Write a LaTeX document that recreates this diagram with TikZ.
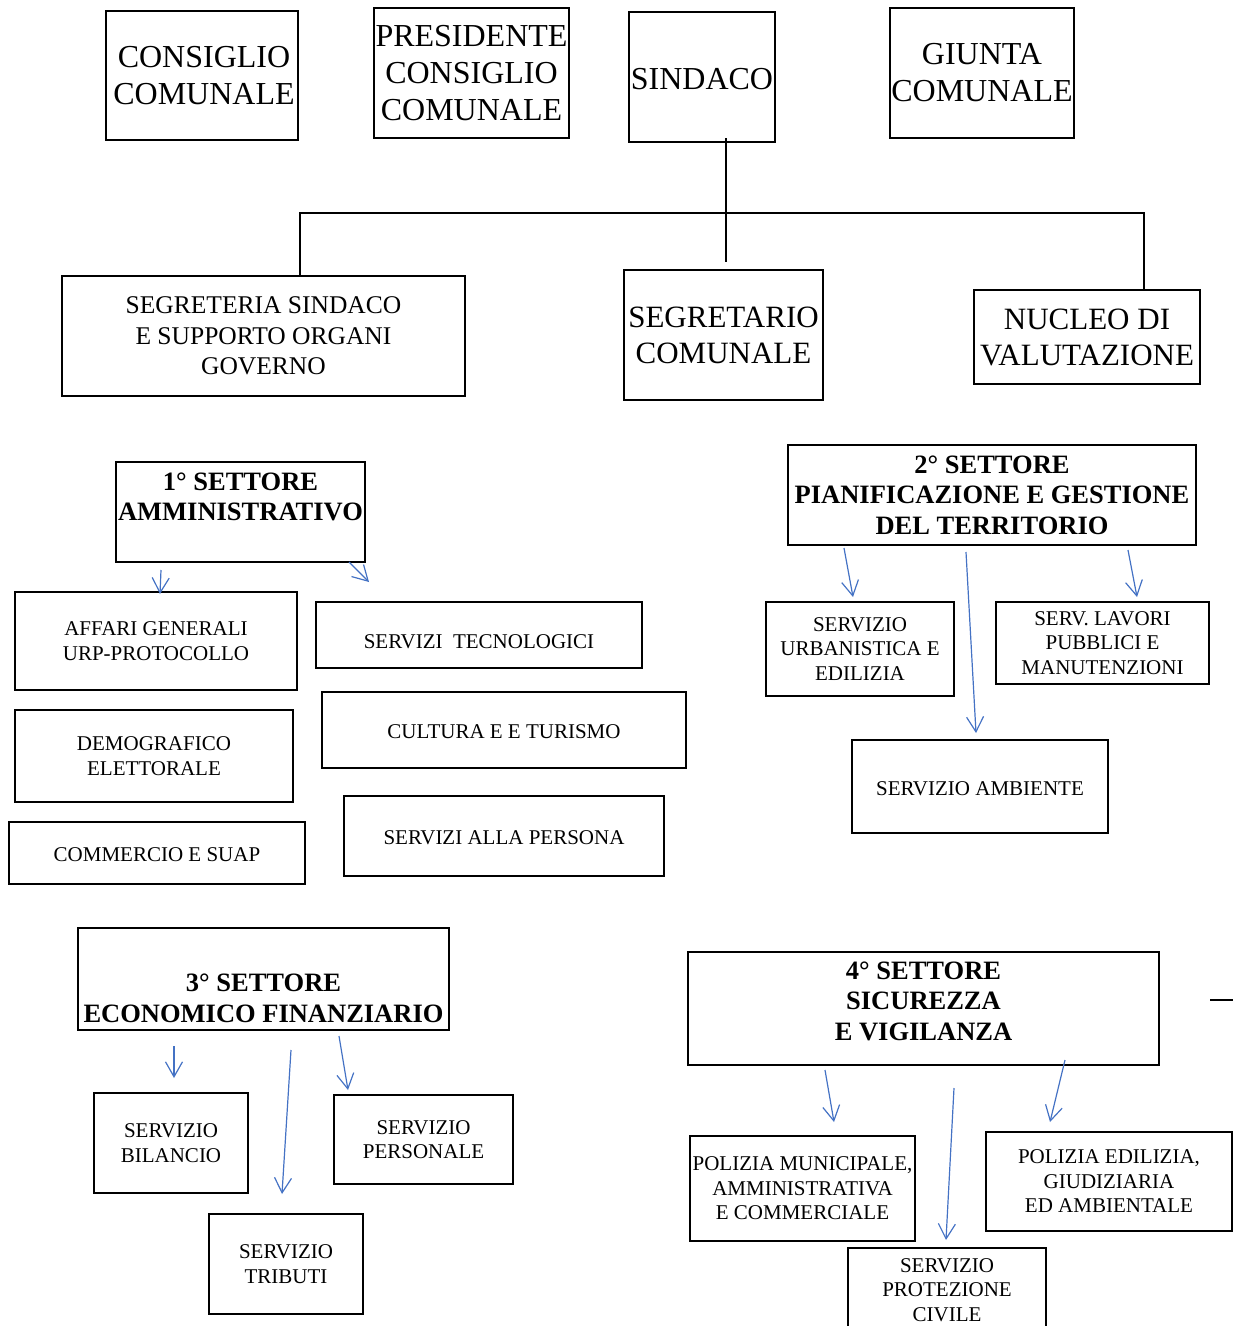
\documentclass[tikz,border=0pt]{standalone}
\usepackage{fontspec}
\setmainfont{Liberation Serif}
\usetikzlibrary{arrows.meta}
\definecolor{arrblue}{HTML}{4472C4}
\newcommand{\orgbox}[7]{%
  \node[orgb,font=#6,minimum width={#4-#2},minimum height={#5-#3}] (#1) at ({(#2+#4)/2},{(#3+#5)/2}) {#7};}
\newcommand{\lowr}[2]{\raisebox{-#1}[\height][\depth]{#2}}
\tikzset{
  orgb/.style={draw=black,line width=2pt,inner sep=0pt,align=center},
  arr/.style={draw=arrblue,line width=1.2pt,-{Straight Barb[length=15pt,width=17pt,line width=1.2pt]}},
  tie/.style={draw=black,line width=2pt}
}
\newcommand{\fbig}{\fontsize{32}{37}\selectfont}
\newcommand{\fmid}{\fontsize{25.5}{30.5}\selectfont}
\newcommand{\fmidb}{\fontsize{31}{36}\selectfont}
\newcommand{\fset}{\fontsize{26.5}{30.5}\selectfont\bfseries}
\newcommand{\fsm}{\fontsize{21}{24.5}\selectfont}
\begin{document}
\begin{tikzpicture}[x=1pt,y=-1pt]
\useasboundingbox (0,0) rectangle (1233,1326);
% top row
\orgbox{consiglio}{106}{11}{298}{140}{\fbig}{\hspace*{4pt}CONSIGLIO\\\hspace*{4pt}COMUNALE}
\orgbox{presidente}{374}{8}{569}{138}{\fbig}{PRESIDENTE\\CONSIGLIO\\COMUNALE}
\orgbox{sindaco}{629}{12}{775}{142}{\fbig}{\lowr{2pt}{SINDACO}}
\orgbox{giunta}{890}{8}{1074}{138}{\fbig}{GIUNTA\\COMUNALE}
% second row
\orgbox{segreteria}{62}{276}{465}{396}{\fmid}{SEGRETERIA SINDACO\\E SUPPORTO ORGANI\\GOVERNO}
\orgbox{segretario}{624}{270}{823}{400}{\fmidb}{SEGRETARIO\\COMUNALE}
\orgbox{nucleo}{974}{290}{1200}{384}{\fmidb}{NUCLEO DI\\VALUTAZIONE}
% connectors
\coordinate (jl) at (300,213);
\coordinate (jr) at (1144,213);
\draw[tie] ([xshift=2.5pt]segretario.north |- sindaco.south) ++(0,-5) -- ([xshift=2.5pt,yshift=7pt]segretario.north);
\draw[tie] (segreteria.north -| jl) -- (jl) -- (jr) -- (nucleo.north -| jr);
% 1 settore
\orgbox{set1}{116}{462}{365}{562}{\fset}{1° SETTORE\\AMMINISTRATIVO\\\mbox{}}
\orgbox{affari}{15}{592}{297}{690}{\fsm}{AFFARI GENERALI\\URP-PROTOCOLLO}
\orgbox{tecno}{316}{602}{642}{668}{\fsm}{\lowr{7pt}{SERVIZI\ \ TECNOLOGICI}}
\orgbox{demo}{15}{710}{293}{802}{\fsm}{DEMOGRAFICO\\ELETTORALE}
\orgbox{cultura}{322}{692}{686}{768}{\fsm}{\lowr{2pt}{CULTURA E E TURISMO}}
\orgbox{commercio}{9}{822}{305}{884}{\fsm}{\lowr{2pt}{COMMERCIO E SUAP}}
\orgbox{persona}{344}{796}{664}{876}{\fsm}{\lowr{2pt}{SERVIZI ALLA PERSONA}}
\coordinate (a1s) at (161,570); \coordinate (a1e) at (160,594);
\coordinate (a2s) at (349,562); \coordinate (a2e) at (369,582);
\draw[arr] (a1s) -- (a1e);
\draw[arr] (a2s) -- (a2e);
% 2 settore
\orgbox{set2}{788}{445}{1196}{545}{\fset}{2° SETTORE\\PIANIFICAZIONE E GESTIONE\\DEL TERRITORIO}
\orgbox{urban}{766}{602}{954}{696}{\fsm}{SERVIZIO\\URBANISTICA E\\EDILIZIA}
\orgbox{lavori}{996}{602}{1209}{684}{\fsm}{SERV. LAVORI\\PUBBLICI E\\MANUTENZIONI}
\orgbox{ambiente}{852}{740}{1108}{833}{\fsm}{\lowr{2pt}{SERVIZIO AMBIENTE}}
\coordinate (b1s) at (844,548); \coordinate (b1e) at (853,597);
\coordinate (b2s) at (966,552); \coordinate (b2e) at (976,733);
\coordinate (b3s) at (1128,550); \coordinate (b3e) at (1137,597);
\draw[arr] (b1s) -- (b1e);
\draw[arr] (b2s) -- (b2e);
\draw[arr] (b3s) -- (b3e);
% 3 settore
\orgbox{set3}{78}{928}{449}{1030}{\fset}{\mbox{}\\[26pt]3° SETTORE\\ECONOMICO FINANZIARIO}
\orgbox{bilancio}{94}{1093}{248}{1193}{\fsm}{SERVIZIO\\BILANCIO}
\orgbox{personale}{334}{1095}{513}{1184}{\fsm}{SERVIZIO\\PERSONALE}
\orgbox{tributi}{209}{1214}{363}{1314}{\fsm}{SERVIZIO\\TRIBUTI}
\coordinate (c1s) at (174,1046); \coordinate (c1e) at (174,1078);
\coordinate (c2s) at (291,1050); \coordinate (c2e) at (282,1194);
\coordinate (c3s) at (339,1036); \coordinate (c3e) at (348,1090);
\draw[arr] (c1s) -- (c1e);
\draw[arr] (c2s) -- (c2e);
\draw[arr] (c3s) -- (c3e);
% 4 settore
\orgbox{set4}{688}{952}{1159}{1065}{\fset}{4° SETTORE\\SICUREZZA\\E VIGILANZA\\[-15pt]\mbox{}}
\orgbox{polmun}{690}{1136}{915}{1241}{\fsm}{POLIZIA MUNICIPALE,\\AMMINISTRATIVA\\E COMMERCIALE}
\orgbox{protezione}{848}{1248}{1046}{1332}{\fsm}{SERVIZIO\\PROTEZIONE\\CIVILE}
\orgbox{poledil}{986}{1132}{1232}{1231}{\fsm}{POLIZIA EDILIZIA,\\GIUDIZIARIA\\ED AMBIENTALE}
\coordinate (d1s) at (825,1070); \coordinate (d1e) at (834,1122);
\coordinate (d2s) at (954,1088); \coordinate (d2e) at (946,1240);
\coordinate (d3s) at (1065,1060); \coordinate (d3e) at (1050,1122);
\draw[arr] (d1s) -- (d1e);
\draw[arr] (d2s) -- (d2e);
\draw[arr] (d3s) -- (d3e);
\coordinate (e1) at (1210,1000); \coordinate (e2) at (1233,1000);
\draw[tie] (e1) -- (e2);
\end{tikzpicture}
\end{document}
